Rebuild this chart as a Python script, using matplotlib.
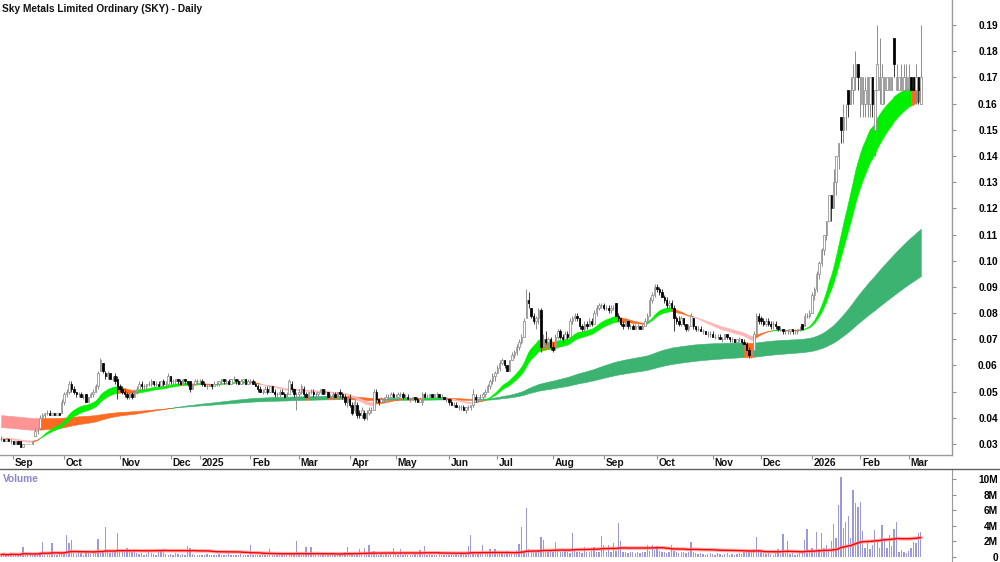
import numpy as np
import pandas as pd
import matplotlib
matplotlib.use("Agg")
import matplotlib.pyplot as plt
from matplotlib.lines import Line2D

plt.rcParams['font.family'] = ['Liberation Sans', 'DejaVu Sans']

TITLE = "Sky Metals Limited Ordinary (SKY) - Daily"

# ---- daily prices in thousandths of a dollar (Aug 2024 .. Mar 2026) ----
opens = [
    32,32,31,32,31,
    31,30,31,31,29,30,30,30,30,33,35,36,40,41,42,42,41,42,41,42,42,
    46,49,50,53,51,50,49,49,48,49,46,48,49,50,52,58,61,57,56,57,55,56,55,
    52,51,50,49,48,49,48,50,51,53,52,52,53,53,54,53,53,52,54,53,53,
    56,54,54,55,54,53,55,54,54,51,53,54,
    54,54,53,52,52,53,52,53,53,54,55,54,54,53,55,55,54,53,54,55,53,
    54,54,53,52,51,50,50,51,50,52,50,49,49,50,49,48,49,53,51,49,
    49,50,51,49,48,50,50,49,49,50,51,50,50,48,48,49,48,50,49,48,46,
    47,45,43,45,42,41,42,40,42,43,43,50,47,46,47,47,48,48,49,
    48,48,49,49,48,48,47,47,48,47,46,46,49,48,48,49,48,49,49,48,48,47,
    47,46,45,45,44,44,44,43,44,44,45,48,47,48,48,49,50,52,54,56,
    57,59,61,62,60,58,62,64,65,67,69,71,78,85,82,79,77,78,81,67,70,69,70,
    67,67,71,73,71,70,72,71,77,78,79,78,75,74,76,75,77,76,80,82,83,
    83,82,82,81,82,84,79,78,76,75,77,75,75,74,75,75,74,75,77,79,85,87,
    90,89,88,86,85,83,84,82,78,77,76,78,76,74,75,78,75,74,74,73,73,72,72,
    72,71,71,71,70,70,72,71,70,70,69,70,70,69,68,66,64,66,72,79,
    78,77,76,77,76,76,76,75,74,74,73,73,73,74,73,73,74,76,75,79,79,
    80,87,89,95,99,104,110,115,125,120,130,140,155,150,155,165,160,165,170,175,
    160,160,160,160,160,170,150,165,165,160,165,165,165,165,185,165,165,165,165,165,
    165,170,170,165,170,160,
]
highs = [
    33,32,32,32,32,
    31,31,31,31,30,30,30,30,31,36,36,41,42,42,43,43,42,42,42,42,47,
    50,51,54,54,52,50,50,50,49,49,48,50,51,53,58,63,61,58,58,57,56,57,56,
    53,52,51,50,50,50,51,52,54,54,53,53,54,55,54,54,54,54,55,54,57,
    56,55,55,55,55,55,55,54,54,53,55,55,
    55,55,54,53,53,53,54,54,54,55,55,55,55,55,56,55,55,55,55,55,55,
    55,55,54,53,52,51,52,52,52,52,51,50,51,51,50,50,55,54,51,50,
    51,53,52,50,50,51,51,50,50,51,51,51,50,49,50,50,50,51,50,49,48,
    49,46,47,46,43,44,43,43,44,44,51,51,47,48,48,49,49,50,50,
    49,50,50,50,49,49,48,48,48,48,47,50,50,49,49,49,49,50,49,49,48,48,
    47,47,46,46,45,45,45,44,45,45,51,49,48,49,50,51,53,55,57,58,
    60,62,63,62,60,62,65,66,68,70,72,78,89,88,82,80,79,82,82,72,73,71,71,
    69,72,74,74,72,73,73,78,79,80,80,78,76,77,77,78,78,81,83,84,84,
    84,83,83,83,83,84,80,78,77,78,77,76,76,76,76,75,76,78,80,86,88,91,
    91,90,89,87,86,85,85,83,79,79,79,78,76,76,80,78,75,75,75,74,73,73,73,
    73,72,72,72,71,72,72,71,71,70,70,71,70,70,69,67,67,73,80,80,
    79,78,78,78,77,77,77,75,75,74,74,74,74,74,74,74,75,76,80,80,81,
    88,90,96,100,105,110,115,125,125,135,140,145,155,160,160,165,170,175,180,175,
    170,170,170,170,170,170,165,190,185,175,170,170,170,170,185,175,170,175,175,175,
    175,170,170,175,170,190,
]
lows = [
    31,31,31,31,30,
    30,30,30,29,29,30,30,30,30,33,34,36,40,40,41,41,41,41,41,41,42,
    45,48,49,50,49,48,48,48,47,46,46,48,48,50,51,58,57,55,55,55,54,53,47,
    50,49,48,47,47,47,48,49,51,51,51,51,52,52,52,52,52,52,52,52,53,
    53,53,53,53,53,53,53,52,50,51,53,53,
    53,52,52,51,52,51,52,52,52,53,53,53,53,53,54,53,53,53,53,53,53,
    53,53,52,50,50,49,50,49,50,50,48,48,48,49,48,48,49,50,48,43,
    48,49,48,48,48,49,48,48,48,49,49,49,48,47,47,48,48,48,47,45,44,
    44,41,42,40,40,40,39,39,41,42,43,46,45,46,46,47,47,48,48,
    48,48,48,47,47,47,46,47,46,46,46,45,48,47,48,48,48,48,48,47,47,46,
    45,45,44,44,43,43,43,42,43,43,44,46,46,47,47,48,50,51,53,54,
    57,58,60,59,58,58,62,63,64,66,68,71,78,82,78,76,74,76,65,66,68,67,66,
    65,66,70,70,69,69,70,71,76,77,77,74,73,73,74,75,75,76,79,81,82,
    81,81,80,80,81,79,77,75,74,75,74,74,74,74,74,74,74,75,76,79,84,86,
    88,87,86,84,82,82,82,73,76,75,75,75,73,73,75,74,73,73,73,72,72,71,71,
    71,70,70,70,69,70,70,69,69,69,69,69,68,68,66,63,63,66,72,76,
    76,75,75,75,74,74,74,73,73,72,72,72,72,72,72,72,73,74,75,78,78,
    80,85,88,93,98,102,108,115,115,120,125,135,145,145,150,155,160,160,165,165,
    155,155,155,155,155,155,140,165,160,160,160,165,165,165,170,165,165,165,165,165,
    165,165,165,160,160,160,
]
closes = [
    32,31,32,31,31,
    30,31,30,29,30,30,30,30,31,35,35,40,41,42,42,41,42,41,42,41,46,
    49,50,53,51,50,49,49,48,48,46,48,49,50,52,57,62,58,56,57,55,55,54,51,
    51,50,49,48,49,48,50,51,53,52,52,53,53,54,53,53,52,54,53,53,56,
    54,54,55,54,53,55,54,53,51,53,54,54,
    54,53,52,52,53,52,53,53,54,55,54,54,53,55,55,54,53,54,55,53,54,
    54,53,52,51,50,50,51,50,52,50,49,49,50,49,48,49,54,51,49,49,
    50,52,49,48,50,50,49,49,50,51,49,50,48,48,49,48,50,49,48,46,47,
    45,42,46,41,41,43,40,42,43,43,50,47,46,47,47,48,48,49,48,
    48,49,49,48,48,47,47,48,47,46,47,49,48,48,49,48,49,49,48,48,47,47,
    46,45,45,44,44,44,43,44,44,45,49,47,48,48,49,50,52,54,56,57,
    59,61,62,60,58,62,64,65,67,69,71,77,85,84,79,77,78,81,67,70,69,70,67,
    66,71,73,71,70,72,71,77,78,79,78,75,74,76,75,77,76,80,82,83,83,
    82,82,81,82,82,79,78,76,75,77,75,75,74,75,75,74,75,77,79,85,87,90,
    89,88,86,85,83,84,82,78,77,76,78,76,74,75,79,75,74,74,73,73,72,72,72,
    71,71,71,70,70,72,71,70,70,69,70,70,69,68,66,64,66,72,79,77,
    77,76,77,76,75,76,75,74,74,73,73,73,74,73,73,74,74,74,79,79,80,
    87,89,95,99,104,110,115,125,120,130,140,145,150,155,155,160,165,170,175,170,
    170,170,165,170,170,160,165,175,170,170,170,170,170,170,175,170,170,170,170,170,
    170,165,165,170,165,170,
]
# daily volume in units of 100,000 shares
volumes = [
    3,4,2,3,5,
    3,2,4,3,13,3,2,4,3,5,4,6,19,5,4,3,18,4,3,5,6,
    6,28,18,22,5,4,6,5,3,6,5,4,7,8,23,9,6,38,7,5,6,8,31,
    6,10,9,11,8,7,10,5,4,5,3,4,6,5,4,3,10,9,10,4,3,
    4,3,5,4,3,4,3,14,11,4,3,3,
    3,2,3,4,2,3,2,3,4,3,2,3,5,3,2,3,2,4,3,2,3,
    16,3,2,3,2,4,3,2,10,3,2,3,4,2,3,2,5,4,3,20,
    4,3,3,13,3,13,4,3,2,3,4,3,2,3,4,3,2,4,5,6,13,
    6,5,7,4,10,5,12,4,15,6,8,4,3,4,3,4,3,4,11,
    4,3,10,3,4,3,2,3,4,3,9,4,14,3,4,3,2,3,4,3,2,3,
    3,4,3,4,3,4,5,3,14,28,5,4,6,5,16,6,5,10,6,10,
    5,6,5,4,8,6,5,7,9,17,39,8,63,10,8,6,7,9,26,22,7,6,8,
    6,19,8,7,6,8,7,5,31,8,7,6,5,13,6,7,8,13,7,6,27,
    16,7,15,6,18,8,43,20,7,6,5,6,7,5,6,5,6,7,16,8,16,9,
    14,8,6,7,5,6,15,8,6,5,7,6,5,6,19,6,5,4,5,4,3,4,5,
    4,3,5,4,3,4,5,3,4,3,4,5,4,6,8,9,7,10,26,8,
    6,5,4,5,4,3,5,10,4,29,5,20,4,5,3,4,5,6,22,36,8,
    12,9,32,10,31,12,15,9,20,42,24,67,102,37,45,53,24,86,69,64,
    71,33,12,18,10,15,34,20,12,41,25,11,28,14,36,45,6,9,7,5,
    8,12,19,18,31,32,
]

# ribbon start values read at the left edge (dollars)
short_seed = [0.0321, 0.0326]   # fast, slow
long_seed = [0.0365, 0.0411]    # fast, slow
SHORT_SPANS = [20, 30]
LONG_SPANS = [140, 240]

price_ticks = [0.03, 0.04, 0.05, 0.06, 0.07, 0.08, 0.09, 0.10, 0.11, 0.12,
               0.13, 0.14, 0.15, 0.16, 0.17, 0.18, 0.19]
vol_ticks = [0, 2e6, 4e6, 6e6, 8e6, 10e6]
vol_labels = ['0', '2M', '4M', '6M', '8M', '10M']

holidays = ['2024-12-25', '2024-12-26', '2025-01-01', '2025-01-27', '2025-04-18',
            '2025-04-21', '2025-04-25', '2025-06-09', '2025-12-25', '2025-12-26',
            '2026-01-01', '2026-01-26']

# ------------------------------------------------------------------
lens = [len(opens), len(highs), len(lows), len(closes), len(volumes)]
dates = pd.bdate_range('2024-08-26', '2026-03-09')
dates = dates[~dates.isin(pd.to_datetime(holidays))]
dates = dates[~((dates >= '2024-12-18') & (dates <= '2024-12-31'))]
if len(set(lens)) != 1 or lens[0] != len(dates):
    raise SystemExit(f"length mismatch {lens} dates={len(dates)}")

o = np.array(opens) / 1000.0
h = np.array(highs) / 1000.0
l = np.array(lows) / 1000.0
c = np.array(closes) / 1000.0
v = np.array(volumes) * 1e5
n = len(c)
x = np.arange(n)


def ema(vals, span, seed):
    a = 2.0 / (span + 1)
    out = np.empty(len(vals))
    e = seed
    for i, val in enumerate(vals):
        e = e + a * (val - e)
        out[i] = e
    return out


def band_colors(fast, slow, close, green, pink, orange):
    cols = []
    for f, s, cl in zip(fast, slow, close):
        if f > s and cl > max(f, s):
            cols.append(green)
        elif f <= s and cl < min(f, s):
            cols.append(pink)
        else:
            cols.append(orange)
    return cols


def draw_band(ax, x, a, b, cols, z):
    start = 0
    for i in range(1, n + 1):
        if i == n or cols[i] != cols[start]:
            sl = slice(start, min(i + 1, n))
            ax.fill_between(x[sl], a[sl], b[sl], facecolor=cols[start],
                            edgecolor=cols[start], lw=0.4, zorder=z)
            start = i


s_fast = ema(c, SHORT_SPANS[0], short_seed[0])
s_slow = ema(c, SHORT_SPANS[1], short_seed[1])
l_fast = ema(c, LONG_SPANS[0], long_seed[0])
l_slow = ema(c, LONG_SPANS[1], long_seed[1])

fig = plt.figure(figsize=(10, 5.62), dpi=100)
ax = fig.add_axes([0, 1 - 455 / 562, 0.952, 455 / 562])
axv = fig.add_axes([0, 0, 0.952, (562 - 469) / 562])

long_cols = band_colors(l_fast, l_slow, c, '#3CB371', '#FF9494', '#FF6A22')
short_cols = band_colors(s_fast, s_slow, c, '#00F000', '#FFB6B6', '#FF6A22')
draw_band(ax, x, l_fast, l_slow, long_cols, 1)
draw_band(ax, x, s_fast, s_slow, short_cols, 2)

# candles
up = c >= o
ax.vlines(x[up], l[up], h[up], color='#8c8c8c', lw=0.7, zorder=3)
ax.vlines(x[~up], l[~up], h[~up], color='#3a3a3a', lw=0.7, zorder=3)
body_lo = np.minimum(o, c)
body_h = np.abs(c - o)
ax.bar(x[up], body_h[up], bottom=body_lo[up], width=0.6, facecolor='white',
       edgecolor='#8c8c8c', lw=0.55, zorder=4)
ax.bar(x[~up], body_h[~up], bottom=body_lo[~up], width=0.6, facecolor='black',
       edgecolor='black', lw=0.55, zorder=4)

ax.set_xlim(-0.5, 392.9)
ax.set_ylim(0.0258, 0.19955)

# month ticks
month_pos, month_lab = [], []
prev = None
for i, d in enumerate(dates):
    key = (d.year, d.month)
    if prev is not None and key != prev:
        month_pos.append(i)
        month_lab.append(str(d.year) if d.month == 1 else d.strftime('%b'))
    prev = key
ax.set_xticks(month_pos)
ax.tick_params(axis='x', direction='out', length=3, color='#909090',
               labelbottom=False, width=0.8)
for p, lab in zip(month_pos, month_lab):
    ax.annotate(lab, xy=(p, 0), xycoords=ax.get_xaxis_transform(),
                xytext=(1.2, -2.2), textcoords='offset points', ha='left',
                va='top', fontsize=7.3, fontweight='bold', color='#111111')

ax.yaxis.tick_right()
ax.set_yticks(price_ticks)
ax.set_yticklabels([f'{t:.2f}' for t in price_ticks])
ax.tick_params(axis='y', direction='out', length=3, color='#909090', width=0.8,
               pad=30.0, labelsize=7.3)
for lab in ax.get_yticklabels():
    lab.set_ha('right')
    lab.set_fontweight('bold')

for sp in ['top', 'left']:
    ax.spines[sp].set_visible(False)
for sp in ['right', 'bottom']:
    ax.spines[sp].set_color('#9a9a9a')
    ax.spines[sp].set_linewidth(1.0)

# volume panel
axv.bar(x, v, width=0.55, color='#9A9ADA', zorder=2)
vol_ma = pd.Series(v).rolling(60, min_periods=1).mean().values
axv.plot(x, vol_ma, color='#FF8C8C', lw=2.6, alpha=0.7, zorder=3)
axv.plot(x, vol_ma, color='#FF0000', lw=1.0, zorder=4)
axv.set_xlim(-0.5, 392.9)
axv.set_ylim(-0.64e6, 11.28e6)
axv.yaxis.tick_right()
axv.set_yticks(vol_ticks)
axv.set_yticklabels(vol_labels)
axv.set_xticks([])
axv.tick_params(axis='y', direction='out', length=3, color='#909090', width=0.8,
                pad=30.0, labelsize=7.3)
for lab in axv.get_yticklabels():
    lab.set_ha('right')
    lab.set_fontweight('bold')
for sp in ['top', 'left', 'bottom']:
    axv.spines[sp].set_visible(False)
axv.spines['right'].set_color('#9a9a9a')

# separator line between the panels
fig.add_artist(Line2D([0, 1], [1 - 469 / 562, 1 - 469 / 562], transform=fig.transFigure,
                      color='#606060', lw=1.0))

fig.text(0.002, 1 - 8.5 / 562, TITLE, fontsize=7.3, fontweight='bold',
         ha='left', va='center', color='#111111')
fig.text(0.003, 1 - 478.5 / 562, 'Volume', fontsize=7.3, fontweight='bold',
         ha='left', va='center', color='#8A86C8')

fig.savefig('out.png', dpi=100)
